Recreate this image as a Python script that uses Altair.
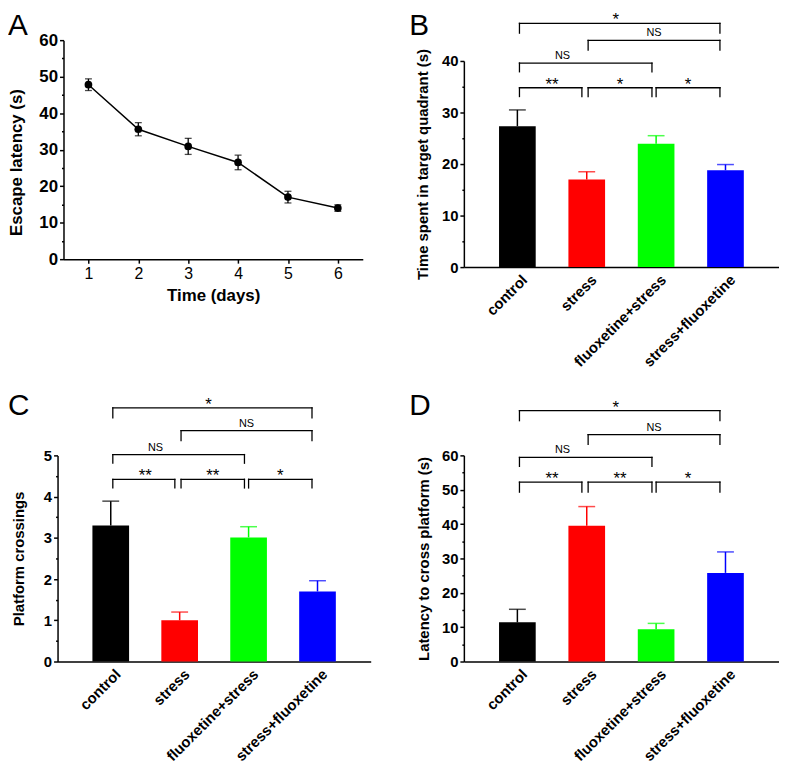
import altair as alt
import pandas as pd

FONT = "Liberation Sans"

# ---------------- data ----------------
days = [1, 2, 3, 4, 5, 6]
escape_latency = [47.8, 35.6, 30.9, 26.5, 17.0, 14.0]
escape_latency_se = [1.6, 1.8, 2.2, 2.0, 1.6, 0.9]

groups = ["control", "stress", "fluoxetine+stress", "stress+fluoxetine"]
group_colors = ["#000000", "#ff0000", "#00ff00", "#0000ff"]

quadrant_time = [27.35, 17.0, 23.95, 18.8]
quadrant_time_err = [3.15, 1.5, 1.55, 1.1]

crossings = [3.30, 1.00, 3.01, 1.70]
crossings_err = [0.59, 0.20, 0.26, 0.26]

cross_latency = [11.4, 39.5, 9.4, 25.8]
cross_latency_err = [3.8, 5.6, 1.7, 6.1]

# significance brackets (positions on the group index axis)
bracket_start = [0.03, 1.02, 0.03, 0.03, 1.02, 2.00]
bracket_end = [2.92, 2.92, 1.94, 0.93, 1.94, 2.92]
bracket_label_x = [1.42, 1.97, 0.65, 0.50, 1.48, 2.46]

b_bracket_top = [47.3, 44.0, 39.6, 34.8, 34.8, 34.8]
b_bracket_bottom = [45.4, 42.1, 37.9, 33.1, 33.1, 33.1]
b_bracket_labels = ["*", "NS", "NS", "**", "*", "*"]

c_bracket_top = [6.15, 5.60, 5.02, 4.42, 4.42, 4.42]
c_bracket_bottom = [5.91, 5.36, 4.81, 4.21, 4.21, 4.21]
c_bracket_labels = ["*", "NS", "NS", "**", "**", "*"]

d_bracket_top = [73.0, 66.05, 59.4, 52.2, 52.2, 52.2]
d_bracket_bottom = [70.1, 63.2, 56.8, 49.3, 49.3, 49.3]
d_bracket_labels = ["*", "NS", "NS", "**", "**", "*"]


def minor_major_axis(values, major, title, title_pad, label_size=15, title_size=15,
                     offset=0, extra=None):
    cond = f"abs(datum.value % {major}) < 1e-6"
    kw = dict(
        values=values, title=title, grid=False, offset=offset,
        domainColor="black", domainWidth=1.5,
        tickColor="black", tickWidth=1.5,
        tickSize={"condition": {"test": cond, "value": 4}, "value": 2},
        labelExpr=f"{cond} ? format(datum.value, 'd') : ''",
        labelFontSize=label_size, labelFontWeight="bold", labelColor="black",
        labelPadding=2, labelOverlap=False, labelFlush=False,
        titleFontSize=title_size, titleFontWeight="bold", titleColor="black",
        titlePadding=title_pad,
    )
    if extra:
        kw.update(extra)
    return alt.Axis(**kw)


def letter_layer(letter, lx, ly):
    return alt.Chart(pd.DataFrame({"t": [letter]})).mark_text(
        fontSize=30, fontWeight="normal", align="left", baseline="alphabetic",
        color="black", font=FONT
    ).encode(text="t:N", x=alt.value(lx), y=alt.value(ly))


# ---------------- panel A ----------------
df_a = pd.DataFrame({
    "day": days,
    "lat": escape_latency,
    "lo": [v - e for v, e in zip(escape_latency, escape_latency_se)],
    "hi": [v + e for v, e in zip(escape_latency, escape_latency_se)],
})
xa = alt.Scale(domain=[0.5, 6.5], range=[6, 308], nice=False, zero=False)
ya = alt.Scale(domain=[0, 60], nice=False, zero=False)
x_axis_a = alt.Axis(
    values=days, title="Time (days)", grid=False, format="d",
    domainColor="black", domainWidth=1.5, tickColor="black", tickWidth=1.5,
    tickSize=4, labelFontSize=16, labelFontWeight="normal", labelColor="black",
    labelPadding=3, labelFlush=False, labelOverlap=False,
    titleFontSize=17, titleFontWeight="bold", titleColor="black", titlePadding=6,
)
y_axis_a = minor_major_axis(list(range(0, 61, 5)), 10, "Escape latency (s)", 14,
                            label_size=17, title_size=17, offset=-6,
                            extra={"titleX": -38, "titleY": 123})
XA = alt.X("day:Q", scale=xa, axis=x_axis_a)
base_a = alt.Chart(df_a)
line_a = base_a.mark_line(color="black", strokeWidth=1.5).encode(
    x=XA, y=alt.Y("lat:Q", scale=ya, axis=y_axis_a))
err_a = base_a.mark_rule(color="black", strokeWidth=1.3).encode(
    x=XA, y=alt.Y("lo:Q", scale=ya, axis=y_axis_a), y2="hi:Q")
cap_lo_a = base_a.mark_tick(orient="horizontal", size=7, thickness=1.3, color="black").encode(
    x=XA, y=alt.Y("lo:Q", scale=ya, axis=y_axis_a))
cap_hi_a = base_a.mark_tick(orient="horizontal", size=7, thickness=1.3, color="black").encode(
    x=XA, y=alt.Y("hi:Q", scale=ya, axis=y_axis_a))
pts_a = base_a.mark_circle(size=60, color="black", opacity=1).encode(
    x=XA, y=alt.Y("lat:Q", scale=ya, axis=y_axis_a))

panel_a = alt.layer(line_a, err_a, cap_lo_a, cap_hi_a, pts_a,
                    letter_layer("A", -50, -5)).properties(width=316, height=221)


# ---------------- bar panels ----------------
label_expr = "[" + ",".join(f"'{g}'" for g in groups) + "][datum.value]"


def bar_panel(values, errs, tops, bottoms, labels, ymax, major, ystep,
              height, plot_h, ytitle, title_pad, letter, letter_x, letter_y, width):
    idx = list(range(len(groups)))
    df = pd.DataFrame({
        "i": idx, "group": groups, "value": values,
        "hi": [v + e for v, e in zip(values, errs)],
        "zero": [0.0] * len(groups), "color": group_colors,
    })
    xs = alt.Scale(domain=[-0.7, 3.7], nice=False, zero=False)
    ys = alt.Scale(domain=[0, ymax], range=[height, height - plot_h], nice=False, zero=False)
    n_minor = int(round(ymax / ystep))
    yvals = [round(k * ystep, 6) for k in range(n_minor + 1)]
    y_axis = minor_major_axis(yvals, major, ytitle, title_pad)
    x_axis = alt.Axis(
        values=idx, labelExpr=label_expr, ticks=False, title=None, grid=False,
        domainColor="black", domainWidth=1.5, labelAngle=-45, labelAlign="right",
        labelBaseline="top", labelPadding=5, labelOffset=2, labelFontSize=15,
        labelFontWeight="bold", labelColor="black", labelOverlap=False, labelFlush=False,
    )

    def X(f):
        return alt.X(f, scale=xs, axis=x_axis)

    def Y(f):
        return alt.Y(f, scale=ys, axis=y_axis)

    col = alt.Color("color:N", scale=None, legend=None)
    base = alt.Chart(df)
    bars = base.mark_bar(size=37, orient="vertical").encode(
        x=X("i:Q"), y=Y("value:Q"), y2="zero:Q", color=col)
    err = base.mark_rule(strokeWidth=1.5).encode(
        x=X("i:Q"), y=Y("value:Q"), y2="hi:Q", color=col)
    cap = base.mark_tick(orient="horizontal", size=17, thickness=1.5).encode(
        x=X("i:Q"), y=Y("hi:Q"), color=col)
    seg = {"x": [], "x2": [], "y": [], "y2": []}
    for a, b, t, bt in zip(bracket_start, bracket_end, tops, bottoms):
        for sx, sx2, sy, sy2 in ((a, b, t, t), (a, a, t, bt), (b, b, t, bt)):
            seg["x"].append(sx); seg["x2"].append(sx2)
            seg["y"].append(sy); seg["y2"].append(sy2)
    brackets = alt.Chart(pd.DataFrame(seg)).mark_rule(
        color="black", strokeWidth=1.3, strokeCap="square").encode(
        x=X("x:Q"), x2="x2:Q", y=Y("y:Q"), y2="y2:Q")
    lab = pd.DataFrame({"x": bracket_label_x, "y": tops, "t": labels})
    stars = alt.Chart(lab[lab["t"] != "NS"]).mark_text(
        fontSize=17, fontWeight="normal", baseline="alphabetic", align="center",
        dy=2, color="black", font=FONT).encode(x=X("x:Q"), y=Y("y:Q"), text="t:N")
    ns = alt.Chart(lab[lab["t"] == "NS"]).mark_text(
        fontSize=11, fontWeight="normal", baseline="alphabetic", align="center",
        dy=-4, color="black", font=FONT).encode(x=X("x:Q"), y=Y("y:Q"), text="t:N")
    return alt.layer(bars, err, cap, brackets, stars, ns,
                     letter_layer(letter, letter_x, letter_y)).properties(
        width=width, height=height)


panel_b = bar_panel(quadrant_time, quadrant_time_err, b_bracket_top, b_bracket_bottom,
                    b_bracket_labels, 40, 10, 5, 229, 208,
                    "Time spent in target quadrant (s)", 11, "B", -55, -5, 318)
panel_c = bar_panel(crossings, crossings_err, c_bracket_top, c_bracket_bottom,
                    c_bracket_labels, 5, 1, 0.5, 208, 208,
                    "Platform crossings", 17, "C", -50, -41, 316)
panel_d = bar_panel(cross_latency, cross_latency_err, d_bracket_top, d_bracket_bottom,
                    d_bracket_labels, 60, 10, 5, 208, 208,
                    "Latency to cross platform (s)", 10, "D", -55, -41, 318)

chart = alt.concat(
    panel_a, panel_b, panel_c, panel_d, columns=2,
    spacing={"row": 190, "column": 92}, bounds="flush", align="all",
).properties(padding=0).configure(font=FONT).configure_view(stroke=None)

chart.save("out.html", embed_options={"renderer": "svg", "actions": False})
